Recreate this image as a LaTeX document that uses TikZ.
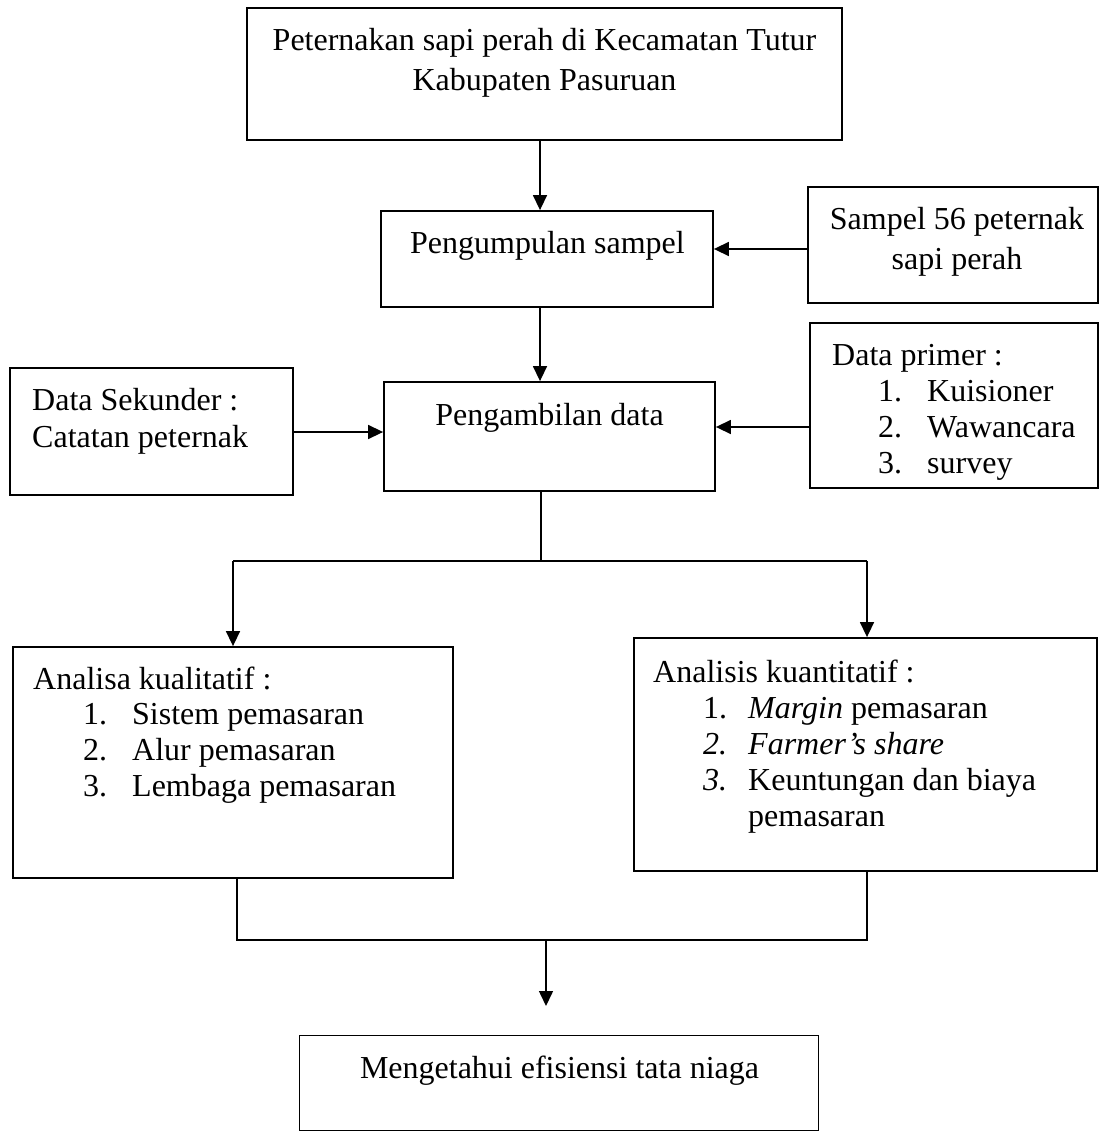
\documentclass[tikz,border=0pt]{standalone}
\usepackage{fontspec}
\setmainfont{Liberation Serif}
\usetikzlibrary{arrows.meta}
\begin{document}
\begin{tikzpicture}[x=1pt,y=-1pt,
  box/.style={draw, line width=1.8pt, inner sep=0pt},
  txt/.style={inner sep=0pt, font=\fontsize{32}{38}\selectfont},
  arr/.style={line width=1.5pt, -{Triangle[width=14pt,length=15pt]}},
  ln/.style={line width=1.5pt}]
\useasboundingbox (0,0) rectangle (1100,1131);
% boxes
\node[box, minimum width=595pt, minimum height=132pt] (b1) at (544.5,74) {};
\node[box, minimum width=332pt, minimum height=96pt] (b2) at (547,259) {};
\node[box, minimum width=290pt, minimum height=116pt] (b3) at (953,245) {};
\node[box, minimum width=288pt, minimum height=165pt] (b4) at (954,405.5) {};
\node[box, minimum width=283pt, minimum height=127pt] (b5) at (151.5,431.5) {};
\node[box, minimum width=331pt, minimum height=109pt] (b6) at (549.5,436.5) {};
\node[box, minimum width=440pt, minimum height=231pt] (b7) at (233,762.5) {};
\node[box, minimum width=463pt, minimum height=233pt] (b8) at (865.5,754.5) {};
\node[box, minimum width=519pt, minimum height=95pt] (b9) at (559,1083) {};
% texts
\node[txt, anchor=base] (t1a) at (544.5,51) {Peternakan sapi perah di Kecamatan Tutur};
\node[txt, anchor=base] (t1b) at (544.5,91) {Kabupaten Pasuruan};
\node[txt, anchor=base] (t2) at (547.5,254) {Pengumpulan sampel};
\node[txt, anchor=base] (t3a) at (957,230) {Sampel 56 peternak};
\node[txt, anchor=base] (t3b) at (957,270) {sapi perah};
\node[txt, anchor=base west] (t4) at (832,365) {Data primer :};
\node[txt, anchor=base west] (t4n1) at (878,401) {1.};
\node[txt, anchor=base west] (t4i1) at (927,401) {Kuisioner};
\node[txt, anchor=base west] (t4n2) at (878,437) {2.};
\node[txt, anchor=base west] (t4i2) at (927,437) {Wawancara};
\node[txt, anchor=base west] (t4n3) at (878,473) {3.};
\node[txt, anchor=base west] (t4i3) at (927,473) {survey};
\node[txt, anchor=base west] (t5a) at (32,410) {Data Sekunder :};
\node[txt, anchor=base west] (t5b) at (32,447) {Catatan peternak};
\node[txt, anchor=base] (t6) at (549.5,425) {Pengambilan data};
\node[txt, anchor=base west] (t7) at (33,689) {Analisa kualitatif :};
\node[txt, anchor=base west] (t7n1) at (83,724) {1.};
\node[txt, anchor=base west] (t7i1) at (132,724) {Sistem pemasaran};
\node[txt, anchor=base west] (t7n2) at (83,760) {2.};
\node[txt, anchor=base west] (t7i2) at (132,760) {Alur pemasaran};
\node[txt, anchor=base west] (t7n3) at (83,796) {3.};
\node[txt, anchor=base west] (t7i3) at (132,796) {Lembaga pemasaran};
\node[txt, anchor=base west] (t8) at (653,682) {Analisis kuantitatif :};
\node[txt, anchor=base west] (t8n1) at (703,718) {1.};
\node[txt, anchor=base west] (t8i1) at (748,718) {\textit{Margin} pemasaran};
\node[txt, anchor=base west] (t8n2) at (703,754) {\textit{2.}};
\node[txt, anchor=base west] (t8i2) at (748,754) {\textit{Farmer's share}};
\node[txt, anchor=base west] (t8n3) at (703,790) {\textit{3.}};
\node[txt, anchor=base west] (t8i3) at (748,790) {Keuntungan dan biaya};
\node[txt, anchor=base west] (t8i4) at (748,826) {pemasaran};
\node[txt, anchor=base] (t9) at (559.5,1078) {Mengetahui efisiensi tata niaga};
% connectors
\coordinate (cx) at (540,0);
\draw[arr] (b1.south -| cx) -- (b2.north -| cx);
\coordinate (cy1) at (0,249);
\draw[arr] (b3.west |- cy1) -- (b2.east |- cy1);
\draw[arr] (b2.south -| cx) -- (b6.north -| cx);
\coordinate (cy2) at (0,432);
\draw[arr] (b5.east |- cy2) -- (b6.west |- cy2);
\coordinate (cy3) at (0,427);
\draw[arr] (b4.west |- cy3) -- (b6.east |- cy3);
\coordinate (sp) at (541,561);
\coordinate (sl) at (233,561);
\coordinate (sr) at (867,561);
\draw[ln] (b6.south -| sp) -- (sp);
\draw[ln] (sl) -- (sr);
\draw[arr] (sl) -- (b7.north -| sl);
\draw[arr] (sr) -- (b8.north -| sr);
\coordinate (ml) at (237,940);
\coordinate (mr) at (867,940);
\draw[ln] (b7.south -| ml) -- (ml) -- (mr) -- (b8.south -| mr);
\coordinate (mt) at (546,940);
\coordinate (me) at (546,1006);
\draw[arr] (mt) -- (me);
\end{tikzpicture}
\end{document}
